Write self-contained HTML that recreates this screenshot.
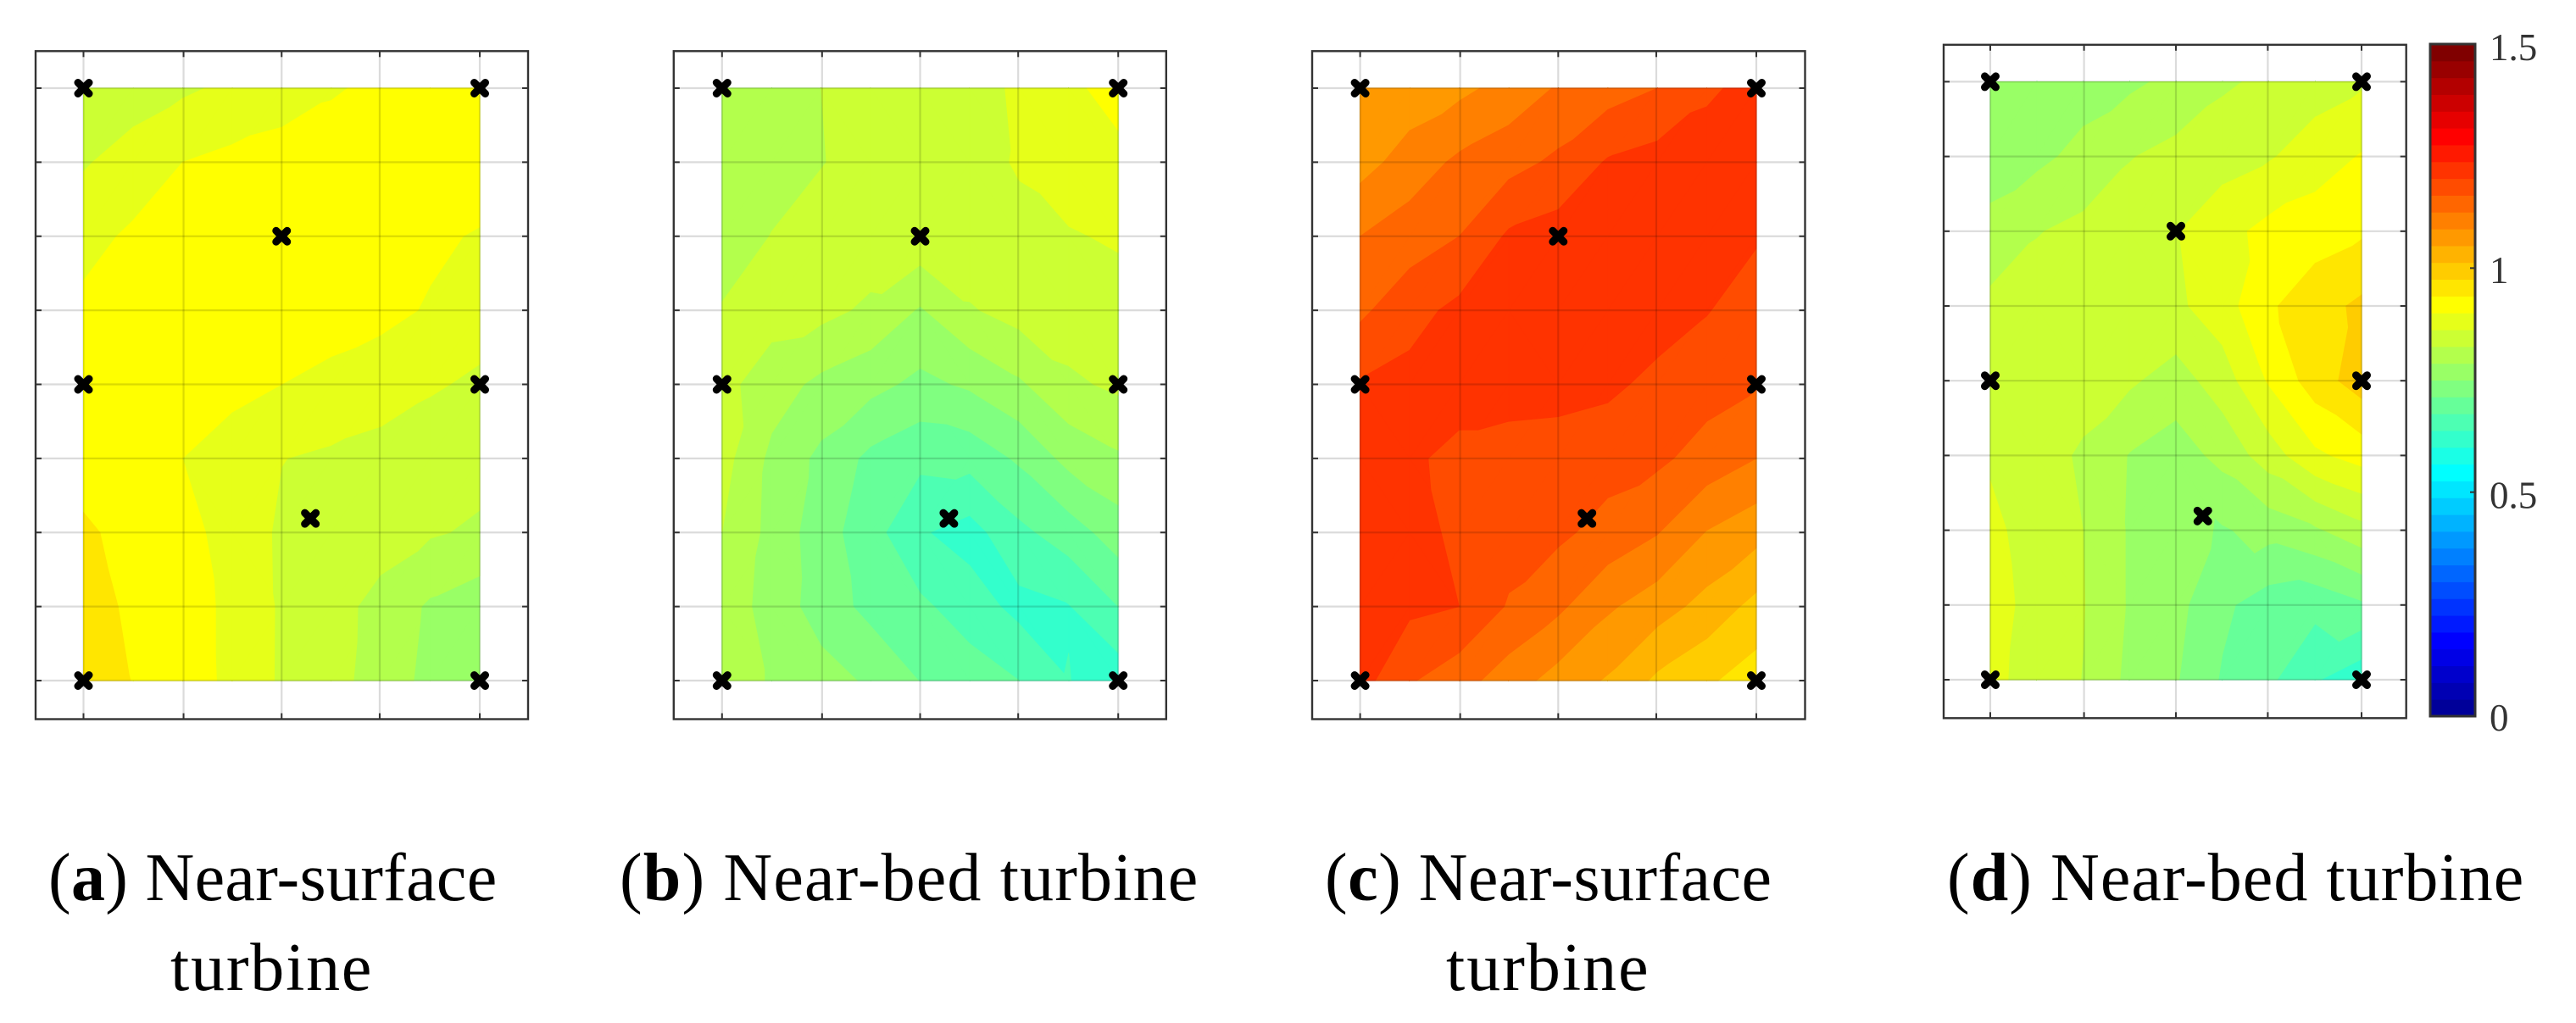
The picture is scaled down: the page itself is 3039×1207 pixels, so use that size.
<!DOCTYPE html>
<html lang="en">
<head>
<meta charset="utf-8">
<title>Contour maps for near-surface and near-bed turbines</title>
<style>
html,body{margin:0;padding:0;background:#fff;}
svg{display:block;}
text{font-family:"Liberation Serif",serif;}
.cap{font-size:80px;fill:#000;}
.cap tspan.b{font-weight:bold;}
.cb{font-size:45px;fill:#333;}
</style>
</head>
<body>
<svg id="fig" xmlns="http://www.w3.org/2000/svg" width="3039" height="1207" viewBox="0 0 3039 1207">
  <rect x="0" y="0" width="3039" height="1207" fill="#fff"/>
  <g id="plots"></g>
  <g id="colorbar"></g>
  <text class="cap" x="57" y="1062" letter-spacing="0.3">(<tspan class="b">a</tspan>) Near-surface</text>
  <text class="cap" x="201" y="1168" letter-spacing="1.8">turbine</text>
  <text class="cap" x="731" y="1062" letter-spacing="1.15">(<tspan class="b">b</tspan>) Near-bed turbine</text>
  <text class="cap" x="1563" y="1062" letter-spacing="0.45">(<tspan class="b">c</tspan>) Near-surface</text>
  <text class="cap" x="1706" y="1168" letter-spacing="2">turbine</text>
  <text class="cap" x="2297" y="1062" letter-spacing="1.05">(<tspan class="b">d</tspan>) Near-bed turbine</text>
</svg>
<script>
// Field values on a 9x9 node grid, in colormap steps (1 step = 0.0375 on the colour scale).
const fieldA = [
 [22.15,22.5,22.84,23.2,23.55,23.9,24.2,24.4,24.5],
 [22.9,23.45,24.0,24.25,24.4,24.5,24.6,24.65,24.7],
 [23.7,24.15,24.35,24.5,24.55,24.5,24.4,24.2,23.9],
 [24.2,24.4,24.6,24.7,24.6,24.5,24.3,23.9,23.4],
 [24.4,24.45,24.5,24.3,24.0,23.7,23.4,23.1,22.85],
 [24.6,24.4,24.0,23.5,23.02,22.85,22.7,22.5,22.35],
 [25.15,24.7,24.35,23.6,22.85,22.6,22.4,22.1,21.85],
 [25.35,24.85,24.4,23.8,22.87,22.35,21.7,20.85,20.4],
 [25.6,24.97,24.44,23.8,22.86,22.33,21.6,20.7,20.2]
];
const fieldB = [
 [21.3,21.6,22.0,22.3,22.55,22.75,23.1,23.77,24.4],
 [21.3,21.7,21.97,22.25,22.5,22.8,23.05,23.45,23.7],
 [21.6,22.02,22.3,22.6,22.7,22.75,22.85,22.93,23.1],
 [22.05,22.4,22.3,21.8,20.9,21.9,22.4,22.6,22.65],
 [22.3,21.47,20.75,20.3,19.75,20.15,20.85,21.8,22.2],
 [22.4,20.76,19.76,18.75,18.25,18.35,19.15,20.3,20.85],
 [22.0,20.7,19.45,18.4,17.1,16.6,17.75,18.5,19.5],
 [21.6,20.6,19.55,18.7,18.2,17.5,16.7,16.95,18.0],
 [21.6,20.9,20.4,19.85,18.97,18.5,18.0,17.03,16.4]
];
const fieldC = [
 [28.1,28.4,28.75,29.35,30.1,30.55,31.0,31.8,32.4],
 [28.6,29.45,30.2,30.65,31.2,32.1,32.4,32.6,32.7],
 [30.0,30.5,31.0,32.15,32.45,32.6,32.7,32.6,32.1],
 [30.8,31.65,32.25,32.5,32.6,32.6,32.45,32.05,31.5],
 [32.05,32.3,32.4,32.4,32.35,32.2,31.75,31.4,31.08],
 [32.5,32.15,31.75,31.6,31.55,31.4,31.2,30.6,30.0],
 [32.6,32.35,31.8,31.45,31.2,30.65,30.05,28.95,28.35],
 [32.5,32.2,32.0,30.9,30.2,29.15,28.45,27.65,26.68],
 [32.4,31.1,30.4,29.5,28.6,27.9,26.8,26.15,25.5]
];
const fieldD = [
 [20.3,20.4,20.55,20.8,21.25,21.85,22.2,22.55,22.85],
 [20.5,20.75,21.3,21.95,22.3,22.6,22.9,23.5,24.07],
 [21.3,21.95,22.25,22.55,22.95,23.65,24.3,24.55,24.85],
 [22.25,22.45,22.55,22.65,22.8,23.55,24.85,25.6,26.2],
 [22.55,22.55,22.45,22.15,21.55,22.5,24.1,25.5,26.5],
 [22.85,22.45,21.85,20.95,20.5,21.3,22.5,23.8,24.4],
 [23.3,22.45,22.0,20.9,20.4,19.9,20.35,20.85,21.65],
 [23.4,22.65,22.05,20.9,20.3,19.2,18.5,18.3,18.85],
 [23.25,22.6,21.97,20.75,20.08,18.9,18.2,17.1,16.3]
];
// Sensor locations in grid-tick units.
const sensorX = [0,4,2,0,4,2.29,0,4];
const sensorY = [0,0,2,4,4,5.81,8,8];
// Axis ticks in grid-tick units.
const xTicks = [0,1.01,2,2.99,4];
const yTicks = [0,1,2,3,4,5,6,7,8];
// Colour bar.
const colorbarTicks = [0,0.5,1,1.5];
const colorbarLabels = ["0","0.5","1","1.5"];
const colorbarBaselines = [862,599.5,334,71];
const colorbarMax = 1.5;
const colorSteps = 40;

const NS = "http://www.w3.org/2000/svg";
const layouts = [
 {name:"a",field:fieldA,l:42,r:623,t:60.3,b:848.5,hl:98.5,hr:566,ht:104,hb:803},
 {name:"b",field:fieldB,l:794.8,r:1375.8,t:60.3,b:848.5,hl:851.8,hr:1319.2,ht:104,hb:803},
 {name:"c",field:fieldC,l:1548,r:2129.5,t:60.3,b:848.5,hl:1604.6,hr:2072,ht:104,hb:803},
 {name:"d",field:fieldD,l:2293,r:2838.7,t:52.8,b:847.3,hl:2348,hr:2786,ht:96.4,hb:802}
];

function jet(i){
  let r,g,b;
  b = i<=4 ? 0.6+0.1*i : i<=14 ? 1 : i<=24 ? 1-(i-14)*0.1 : 0;
  g = i<=4 ? 0 : i<=14 ? 0.1*(i-4) : i<=24 ? 1 : i<=34 ? 1-(i-24)*0.1 : 0;
  r = i<=14 ? 0 : i<=24 ? (i-14)*0.1 : i<=34 ? 1 : 1-(i-34)*0.1;
  return "rgb("+Math.round(r*255)+","+Math.round(g*255)+","+Math.round(b*255)+")";
}
function make(tag,attrs,parent){
  const el=document.createElementNS(NS,tag);
  for(const k in attrs){el.setAttribute(k,attrs[k]);}
  parent.appendChild(el);
  return el;
}
function clipAbove(poly,level){
  const out=[];
  for(let i=0;i<poly.length;i++){
    const p=poly[i],q=poly[(i+1)%poly.length];
    const pIn=p[2]>=level,qIn=q[2]>=level;
    if(pIn){out.push(p);}
    if(pIn!==qIn){
      const t=(level-p[2])/(q[2]-p[2]);
      out.push([p[0]+t*(q[0]-p[0]),p[1]+t*(q[1]-p[1]),level]);
    }
  }
  return out;
}
function drawPanel(cfg,root){
  const panel=make("g",{},root);
  
  
  const xTick=v=>cfg.hl+(cfg.hr-cfg.hl)*v/4;
  const yTick=v=>cfg.ht+(cfg.hb-cfg.ht)*v/8;
  const f=cfg.field;
  const rows=f.length,cols=f[0].length;
  const xNode=c=>xTick(c*4/(cols-1));
  const yNode=r=>yTick(r*8/(rows-1));
  // triangulate each cell along its flattest diagonal so ridges and valleys stay straight
  const tris=[];
  let lo=Infinity,hi=-Infinity;
  for(let r=0;r<rows;r++){for(let c=0;c<cols;c++){lo=Math.min(lo,f[r][c]);hi=Math.max(hi,f[r][c]);}}
  for(let r=0;r<rows-1;r++){
    for(let c=0;c<cols-1;c++){
      const A=[xNode(c),yNode(r),f[r][c]];
      const B=[xNode(c+1),yNode(r),f[r][c+1]];
      const C=[xNode(c+1),yNode(r+1),f[r+1][c+1]];
      const D=[xNode(c),yNode(r+1),f[r+1][c]];
      if(Math.abs(A[2]-C[2])<=Math.abs(B[2]-D[2])){
        tris.push([A,B,C],[A,C,D]);
      }else{
        tris.push([A,B,D],[B,C,D]);
      }
    }
  }
  const surface=make("g",{},panel);
  
  
  for(let k=Math.floor(lo);k<=Math.floor(hi);k++){
    let d="";
    for(const t of tris){
      const poly=clipAbove(t,k);
      if(poly.length<3){continue;}
      d+="M"+poly.map(p=>p[0].toFixed(2)+" "+p[1].toFixed(2)).join("L")+"Z";
    }
    const color=jet(k);
    const band=make("path",{d:d,fill:color,stroke:color,"stroke-width":0.7},surface);
    
    
  }
  // grid
  const gridColor="rgba(0,0,0,0.14)";
  for(const v of xTicks){
    const x=xTick(v);
    const gl=make("line",{x1:x,x2:x,y1:cfg.t,y2:cfg.b,stroke:gridColor,"stroke-width":2.2},panel);
    
    
    const t1=make("line",{x1:x,x2:x,y1:cfg.t,y2:cfg.t+7,stroke:"#333","stroke-width":2},panel);
    
    
    const t2=make("line",{x1:x,x2:x,y1:cfg.b,y2:cfg.b-7,stroke:"#333","stroke-width":2},panel);
    
    
  }
  for(const v of yTicks){
    const y=yTick(v);
    const gl=make("line",{x1:cfg.l,x2:cfg.r,y1:y,y2:y,stroke:gridColor,"stroke-width":2.2},panel);
    
    
    const t1=make("line",{x1:cfg.l,x2:cfg.l+7,y1:y,y2:y,stroke:"#333","stroke-width":2},panel);
    
    
    const t2=make("line",{x1:cfg.r,x2:cfg.r-7,y1:y,y2:y,stroke:"#333","stroke-width":2},panel);
    
    
  }
  const frame=make("rect",{x:cfg.l,y:cfg.t,width:cfg.r-cfg.l,height:cfg.b-cfg.t,fill:"none",stroke:"#333","stroke-width":2.4},panel);
  
  
  // sensors
  for(let i=0;i<sensorX.length;i++){
    const cx=xTick(sensorX[i]),cy=yTick(sensorY[i]);
    const s=6.5;
    const mark=make("path",{d:"M"+(cx-s)+" "+(cy-s)+"L"+(cx+s)+" "+(cy+s)+"M"+(cx-s)+" "+(cy+s)+"L"+(cx+s)+" "+(cy-s),stroke:"#000","stroke-width":9,"stroke-linecap":"round",fill:"none"},panel);
    
    
  }
}
function drawColorbar(root){
  const left=2867,right=2920,top=52,bottom=845;
  const yVal=v=>bottom-(bottom-top)*v/colorbarMax;
  for(let i=0;i<colorSteps;i++){
    const y1=yVal((i+1)*colorbarMax/colorSteps);
    const y0=yVal(i*colorbarMax/colorSteps);
    const seg=make("rect",{x:left,y:y1,width:right-left,height:y0-y1+0.5,fill:jet(i)},root);
    
    
  }
  const box=make("rect",{x:left,y:top,width:right-left,height:bottom-top,fill:"none",stroke:"#333","stroke-width":3},root);
  
  
  for(let i=0;i<colorbarTicks.length;i++){
    const v=colorbarTicks[i];
    const y=yVal(v);
    if(v>0&&v<colorbarMax){
      const t=make("line",{x1:right-6,x2:right,y1:y,y2:y,stroke:"#333","stroke-width":2},root);
      
      
    }
    const lab=make("text",{x:2937,y:colorbarBaselines[i],class:"cb"},root);
    
    
    lab.textContent=colorbarLabels[i];
  }
}
const plotsRoot=document.getElementById("plots");
layouts.forEach(cfg=>drawPanel(cfg,plotsRoot));
drawColorbar(document.getElementById("colorbar"));
</script>
</body>
</html>
